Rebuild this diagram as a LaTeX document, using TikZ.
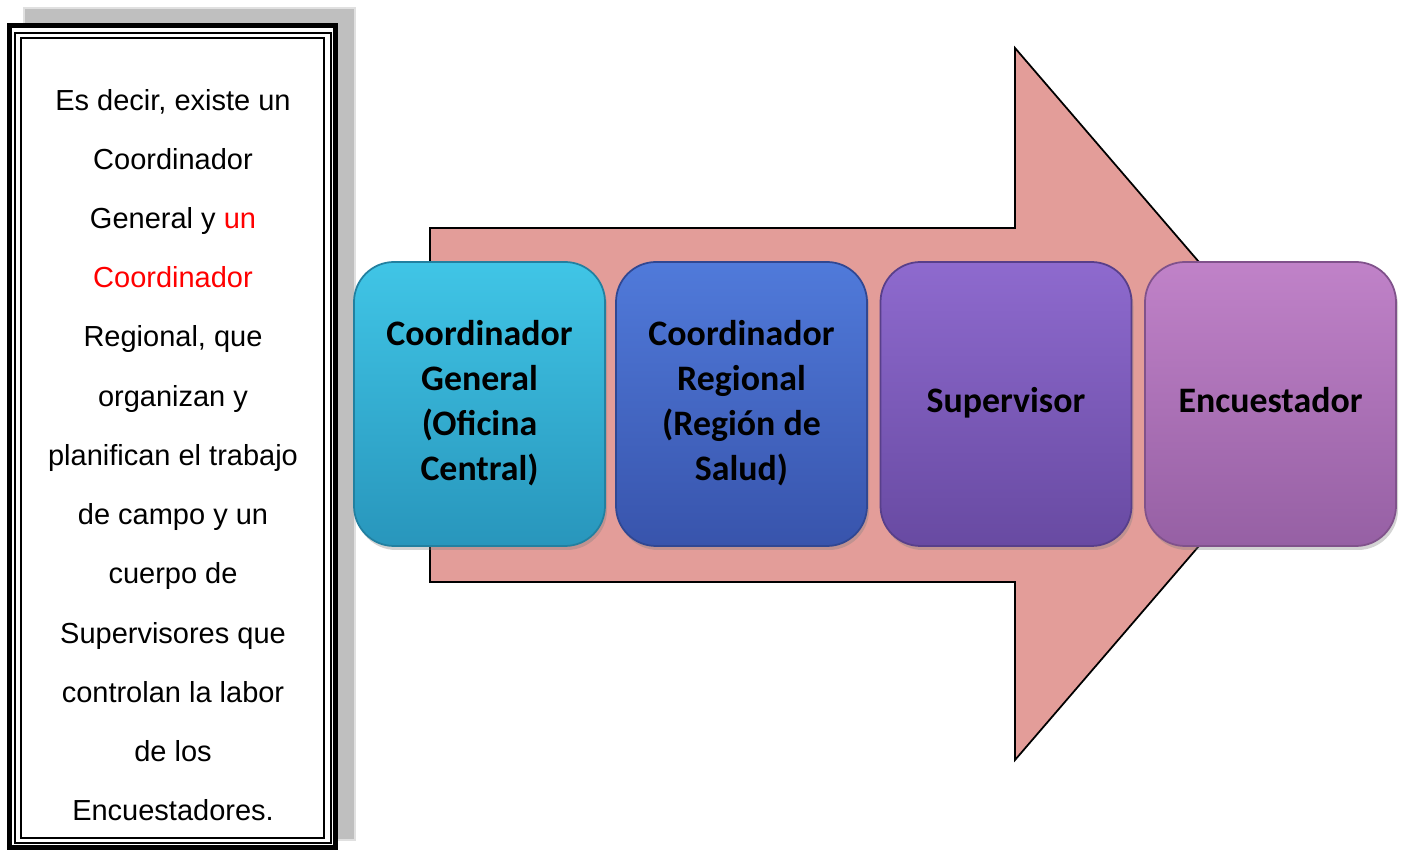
\documentclass[tikz,border=0pt]{standalone}
\usepackage{fontspec}
\usepackage{tikz}
\usepackage{tikz-network}
\usepackage{color}
\usetikzlibrary{shadows}
\setmainfont{Liberation Sans}
\newfontfamily\cajafont{Carlito}
\newcommand{\cajatexto}{\cajafont\bfseries\fontsize{20.4}{25.5}\selectfont}
\definecolor{flecha}{RGB}{227,157,153}
\definecolor{celesteA}{RGB}{64,197,230}
\definecolor{celesteB}{RGB}{40,150,188}
\definecolor{azulA}{RGB}{80,122,218}
\definecolor{azulB}{RGB}{56,84,172}
\definecolor{moradoA}{RGB}{142,106,206}
\definecolor{moradoB}{RGB}{104,74,162}
\definecolor{lilaA}{RGB}{192,130,200}
\definecolor{lilaB}{RGB}{150,96,164}

\begin{document}
\begin{tikzpicture}
	\useasboundingbox (0,0) rectangle (28.08,17);
	\filldraw[fill=black!25,draw=black!12,line width=1.5pt] (0.48,0.2) rectangle (7.1,16.84);
	\filldraw[fill=white,draw=black,line width=0.1cm] (0.19,0.04) rectangle (6.7,16.48);
	\draw[line width=0.04cm] (0.3,0.14) rectangle (6.61,16.34);
	\draw[line width=0.04cm] (0.43,0.24) rectangle (6.48,16.23);
	\node[align=center,font=\fontsize{16.5}{33.7}\selectfont] (nota) at (3.46,7.9) {Es decir, existe un\\Coordinador\\General y \textcolor{red}{un}\\\textcolor{red}{Coordinador}\\Regional, que\\organizan y\\planifican el trabajo\\de campo y un\\cuerpo de\\Supervisores que\\controlan la labor\\de los\\Encuestadores.};
	\filldraw[fill=flecha,draw=black,line width=1pt] (8.6,12.44) -- (20.3,12.44) -- (20.3,16.04) -- (26.42,8.92) -- (20.3,1.8) -- (20.3,5.36) -- (8.6,5.36) -- cycle;
	\Vertex[x=9.59,y=8.92,shape=rectangle,size=5.02,fontsize=\cajatexto,label={\begin{tabular}{@{}c@{}}Coordinador\\General\\(Oficina\\Central)\end{tabular}},style={rounded corners=0.8cm,minimum height=5.68cm,top color=celesteA,bottom color=celesteB,draw=celesteB!85!black,line width=1pt,drop shadow={opacity=0.35,shadow xshift=0.04cm,shadow yshift=-0.08cm}}]{general}
	\Vertex[x=14.83,y=8.92,shape=rectangle,size=5.02,fontsize=\cajatexto,label={\begin{tabular}{@{}c@{}}Coordinador\\Regional\\(Región de\\Salud)\end{tabular}},style={rounded corners=0.8cm,minimum height=5.68cm,top color=azulA,bottom color=azulB,draw=azulB!85!black,line width=1pt,drop shadow={opacity=0.35,shadow xshift=0.04cm,shadow yshift=-0.08cm}}]{regional}
	\Vertex[x=20.12,y=8.92,shape=rectangle,size=5.02,fontsize=\cajatexto,label={\begin{tabular}{@{}c@{}}Supervisor\end{tabular}},style={rounded corners=0.8cm,minimum height=5.68cm,top color=moradoA,bottom color=moradoB,draw=moradoB!85!black,line width=1pt,drop shadow={opacity=0.35,shadow xshift=0.04cm,shadow yshift=-0.08cm}}]{supervisor}
	\Vertex[x=25.41,y=8.92,shape=rectangle,size=5.02,fontsize=\cajatexto,label={\begin{tabular}{@{}c@{}}Encuestador\end{tabular}},style={rounded corners=0.8cm,minimum height=5.68cm,top color=lilaA,bottom color=lilaB,draw=lilaB!85!black,line width=1pt,drop shadow={opacity=0.35,shadow xshift=0.04cm,shadow yshift=-0.08cm}}]{encuestador}
\end{tikzpicture}
\end{document}
